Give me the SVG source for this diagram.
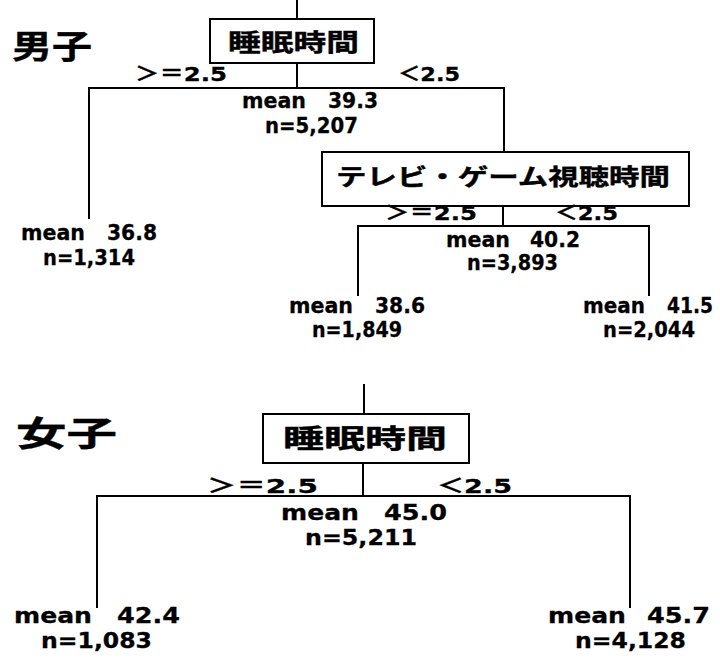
<svg xmlns="http://www.w3.org/2000/svg" width="720" height="658" viewBox="0 0 720 658">
<style>
  .ln{stroke:#000;stroke-width:2;fill:none;stroke-linecap:square}
  .box{stroke:#000;stroke-width:2;fill:#fff}
  .jp{font-family:"Noto Sans CJK JP","DejaVu Sans",sans-serif;font-weight:bold;fill:#000;stroke:#000;stroke-width:0.4}
  .v{font-family:"DejaVu Sans","Noto Sans CJK JP",sans-serif;font-weight:bold;font-size:22px;fill:#000;stroke:#000;stroke-width:0.3}
  .lb{font-family:"DejaVu Sans","Noto Sans CJK JP",sans-serif;font-weight:bold;font-size:20px;fill:#000;stroke:#000;stroke-width:0.3}
</style>
<rect width="720" height="658" fill="#fff"/>
<g id="connectors">
  <path class="ln" d="M297,0 V19 M297,63 V88 M89,88 H504 M89,88 V218 M504,88 V152"/>
  <path class="ln" d="M503,206 V226 M358,226 H649 M358,226 V295 M649,226 V295"/>
  <path class="ln" d="M364,385 V414 M363,463 V496 M97,496 H630 M97,496 V607 M630,496 V607"/>
</g>
<g id="title-boys"><text class="jp" x="12" y="58" font-size="32" textLength="80" lengthAdjust="spacingAndGlyphs">男子</text></g>
<g id="boys-sleep">
  <rect class="box" x="210" y="19" width="164" height="44"/>
  <text class="jp" x="228" y="51" font-size="24" textLength="131" lengthAdjust="spacingAndGlyphs">睡眠時間</text>
</g>
<g id="boys-labels">
  <text class="lb" x="135" y="81" textLength="92" lengthAdjust="spacingAndGlyphs">＞＝2.5</text>
  <text class="lb" x="398" y="81" textLength="62" lengthAdjust="spacingAndGlyphs">＜2.5</text>
</g>
<g id="boys-root-stats">
  <text class="v" x="242" y="108" textLength="64" lengthAdjust="spacingAndGlyphs">mean</text>
  <text class="v" x="328" y="108" textLength="50" lengthAdjust="spacingAndGlyphs">39.3</text>
  <text class="v" x="265" y="133" textLength="93" lengthAdjust="spacingAndGlyphs">n=5,207</text>
</g>
<g id="boys-leaf1">
  <text class="v" x="21" y="240" textLength="64" lengthAdjust="spacingAndGlyphs">mean</text>
  <text class="v" x="107" y="240" textLength="50" lengthAdjust="spacingAndGlyphs">36.8</text>
  <text class="v" x="43" y="265" textLength="92" lengthAdjust="spacingAndGlyphs">n=1,314</text>
</g>
<g id="boys-tv">
  <rect class="box" x="322" y="152" width="367" height="54"/>
  <text class="jp" x="336" y="185" font-size="23" textLength="334" lengthAdjust="spacingAndGlyphs">テレビ・ゲーム視聴時間</text>
</g>
<g id="boys-tv-labels">
  <text class="lb" x="385" y="220" textLength="92" lengthAdjust="spacingAndGlyphs">＞＝2.5</text>
  <text class="lb" x="555" y="220" textLength="63" lengthAdjust="spacingAndGlyphs">＜2.5</text>
</g>
<g id="boys-tv-stats">
  <text class="v" x="446" y="247" textLength="64" lengthAdjust="spacingAndGlyphs">mean</text>
  <text class="v" x="530" y="247" textLength="50" lengthAdjust="spacingAndGlyphs">40.2</text>
  <text class="v" x="467" y="270" textLength="91" lengthAdjust="spacingAndGlyphs">n=3,893</text>
</g>
<g id="boys-leaf2">
  <text class="v" x="289" y="313" textLength="64" lengthAdjust="spacingAndGlyphs">mean</text>
  <text class="v" x="375" y="313" textLength="50" lengthAdjust="spacingAndGlyphs">38.6</text>
  <text class="v" x="312" y="337" textLength="90" lengthAdjust="spacingAndGlyphs">n=1,849</text>
</g>
<g id="boys-leaf3">
  <text class="v" x="583" y="313" textLength="62" lengthAdjust="spacingAndGlyphs">mean</text>
  <text class="v" x="667" y="313" textLength="46" lengthAdjust="spacingAndGlyphs">41.5</text>
  <text class="v" x="603" y="337" textLength="92" lengthAdjust="spacingAndGlyphs">n=2,044</text>
</g>
<g id="title-girls"><text class="jp" x="16" y="446" font-size="34" textLength="101" lengthAdjust="spacingAndGlyphs">女子</text></g>
<g id="girls-sleep">
  <rect class="box" x="263" y="414" width="206" height="49"/>
  <text class="jp" x="283" y="448" font-size="26" textLength="164" lengthAdjust="spacingAndGlyphs">睡眠時間</text>
</g>
<g id="girls-labels">
  <text class="lb" x="207" y="493" font-size="21" textLength="111" lengthAdjust="spacingAndGlyphs">＞＝2.5</text>
  <text class="lb" x="437" y="493" font-size="21" textLength="75" lengthAdjust="spacingAndGlyphs">＜2.5</text>
</g>
<g id="girls-root-stats">
  <text class="v" x="281" y="520" textLength="78" lengthAdjust="spacingAndGlyphs">mean</text>
  <text class="v" x="384" y="520" textLength="63" lengthAdjust="spacingAndGlyphs">45.0</text>
  <text class="v" x="305" y="545" textLength="112" lengthAdjust="spacingAndGlyphs">n=5,211</text>
</g>
<g id="girls-leaf1">
  <text class="v" x="14" y="623" textLength="78" lengthAdjust="spacingAndGlyphs">mean</text>
  <text class="v" x="117" y="623" textLength="63" lengthAdjust="spacingAndGlyphs">42.4</text>
  <text class="v" x="41" y="648" textLength="111" lengthAdjust="spacingAndGlyphs">n=1,083</text>
</g>
<g id="girls-leaf2">
  <text class="v" x="548" y="623" textLength="78" lengthAdjust="spacingAndGlyphs">mean</text>
  <text class="v" x="647" y="623" textLength="63" lengthAdjust="spacingAndGlyphs">45.7</text>
  <text class="v" x="575" y="648" textLength="111" lengthAdjust="spacingAndGlyphs">n=4,128</text>
</g>
</svg>
